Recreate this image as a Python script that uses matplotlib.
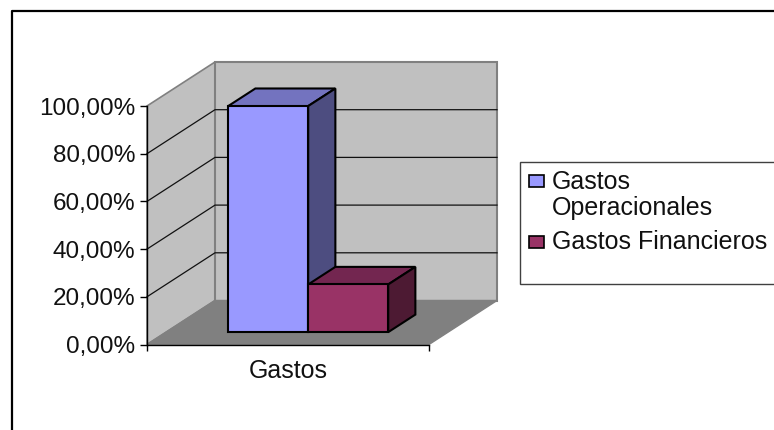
import matplotlib

matplotlib.use("Agg")
import matplotlib.pyplot as plt
from matplotlib.lines import Line2D
from matplotlib.patches import Polygon, Rectangle

plt.rcParams["font.family"] = ["Liberation Sans", "DejaVu Sans"]

# values
category = "Gastos"
series_names = ["Gastos\nOperacionales", "Gastos Financieros"]
series_values = [94.8, 20.0]
y_ticks = [0, 20, 40, 60, 80, 100]
y_labels = ["0,00%", "20,00%", "40,00%", "60,00%", "80,00%", "100,00%"]

front_colors = ["#9999ff", "#993366"]
top_colors = ["#7373bf", "#732650"]
side_colors = ["#4d4d80", "#4d1a33"]

W, H = 774, 430
fig = plt.figure(figsize=(W / 100, H / 100), dpi=100)
ax = fig.add_axes([147 / W, (H - 344.5) / H, 282 / W, 238.5 / H])
ax.set_xlim(0, 1)
ax.set_ylim(0, 100)

# fake 3D: depth 1 means moved to the back wall
depth_x = 68 / 282
depth_y = 44 / 2.385


def pt(x, y, d=0):
    return (x + d * depth_x, y + d * depth_y)


def face(points, color, edge="black", lw=1.5, z=3):
    ax.add_patch(Polygon(points, closed=True, facecolor=color, edgecolor=edge,
                         linewidth=lw, joinstyle="miter", clip_on=False, zorder=z))


# walls and floor
face([pt(0, 0), pt(0, 0, 1), pt(0, 100, 1), pt(0, 100)], "#c0c0c0", "#808080", 1.2, 1)
face([pt(0, 0, 1), pt(1, 0, 1), pt(1, 100, 1), pt(0, 100, 1)], "#c0c0c0", "#808080", 1.5, 1)
face([pt(0, 0), pt(1, 0), pt(1, 0, 1), pt(0, 0, 1)], "#808080", "#808080", 1, 1)

# gridlines
for t in y_ticks[1:-1]:
    xs, ys = zip(pt(0, t), pt(0, t, 1), pt(1, t, 1))
    ax.plot(xs, ys, color="#111111", lw=0.9, clip_on=False, zorder=2)

# bars
bar_w = 80 / 282
d0, d1 = 0.28, 0.68
for i, v in enumerate(series_values):
    x0 = 0.504 - bar_w + i * bar_w
    x1 = x0 + bar_w
    z = 3 + i
    face([pt(x0, v, d0), pt(x1, v, d0), pt(x1, v, d1), pt(x0, v, d1)], top_colors[i], z=z)
    face([pt(x1, 0, d0), pt(x1, 0, d1), pt(x1, v, d1), pt(x1, v, d0)], side_colors[i], z=z)
    face([pt(x0, 0, d0), pt(x1, 0, d0), pt(x1, v, d0), pt(x0, v, d0)], front_colors[i], z=z)

# axes
for s in ["top", "right"]:
    ax.spines[s].set_visible(False)
ax.patch.set_visible(False)
ax.spines["left"].set_linewidth(1)
ax.spines["bottom"].set_linewidth(1)
ax.spines["left"].set_zorder(6)
ax.spines["bottom"].set_zorder(6)
ax.set_yticks(y_ticks)
ax.set_yticklabels(y_labels, fontsize=17.5, color="#111111")
ax.set_xticks([0, 1])
ax.set_xticklabels(["", ""])
ax.tick_params(axis="y", length=5, width=1, pad=3.5)
ax.tick_params(axis="x", length=4, width=1)
ax.text(0.5, -6, category, ha="center", va="top", fontsize=18, color="#111111")

# outer frame, only left and top are visible
fig.add_artist(Line2D([12 / W, 12 / W, 1], [0, (H - 10.5) / H, (H - 10.5) / H],
                      color="black", lw=1.6))

# legend
fig.add_artist(Rectangle((520 / W, (H - 284) / H), 270 / W, 122 / H, facecolor="white",
                         edgecolor="#404040", lw=1, transform=fig.transFigure))
legend_rows = [(175, 189), (236, 249)]
for i, name in enumerate(series_names):
    top, base = legend_rows[i]
    fig.add_artist(Rectangle((529 / W, (H - top - 12) / H), 15 / W, 12 / H,
                             facecolor=front_colors[i], edgecolor="black", lw=1.2,
                             transform=fig.transFigure))
    fig.text(552 / W, (H - base) / H, name.split("\n")[0], fontsize=18,
             va="baseline", color="#111111")
    if "\n" in name:
        fig.text(552 / W, (H - base - 26) / H, name.split("\n")[1], fontsize=18,
                 va="baseline", color="#111111")

fig.savefig("out.png", dpi=100)
